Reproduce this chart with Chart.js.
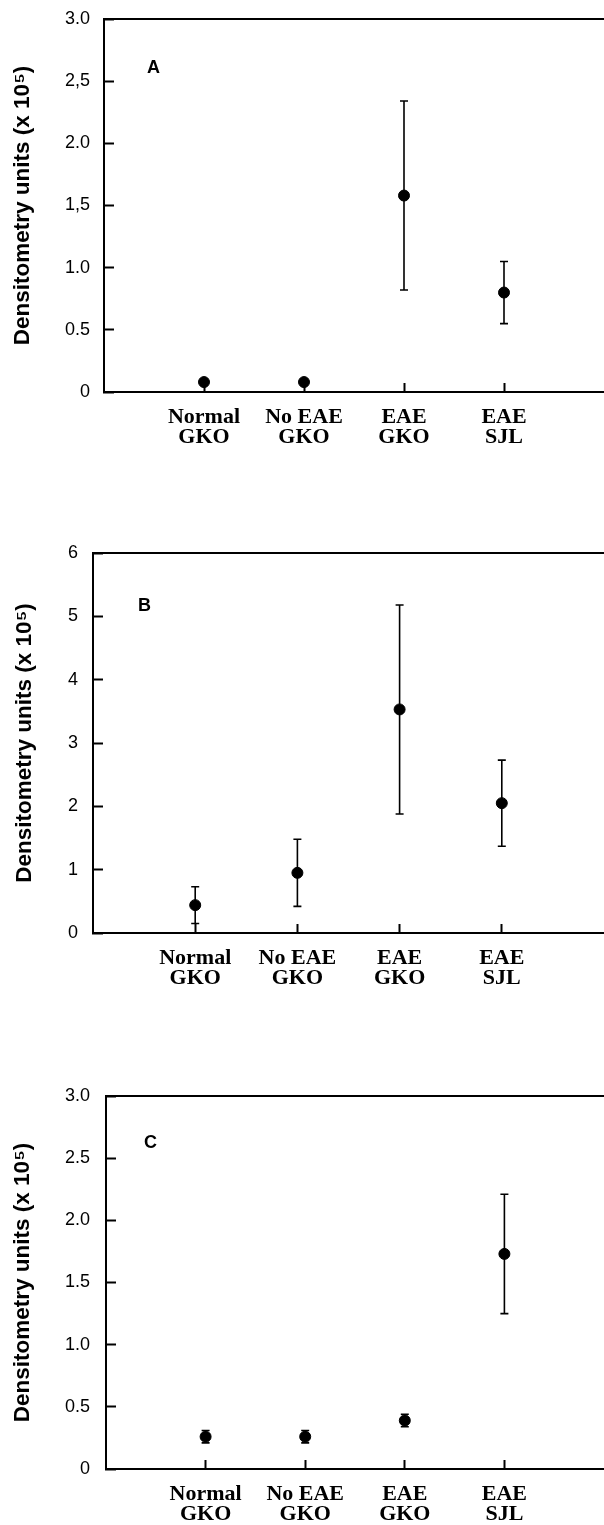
<!DOCTYPE html>
<html>
<head>
<meta charset="utf-8">
<script src="https://cdn.jsdelivr.net/npm/chart.js@4/dist/chart.umd.min.js"></script>
<style>
  html, body { margin: 0; padding: 0; background: #fff; }
  #wrap { position: relative; width: 604px; height: 1525px; }
  #wrap canvas { position: absolute; left: 0; }
</style>
</head>
<body>
<div id="wrap">
  <canvas id="panel-a"></canvas>
  <canvas id="panel-b"></canvas>
  <canvas id="panel-c"></canvas>
</div>
<script>
// groups along the x axis
const categories = [['Normal', 'GKO'], ['No EAE', 'GKO'], ['EAE', 'GKO'], ['EAE', 'SJL']];

// panel A
const meanA = [0.08, 0.08, 1.58, 0.80];
const errA = [0, 0, 0.76, 0.25];
const ticksA = ['0', '0.5', '1.0', '1,5', '2.0', '2,5', '3.0'];

// panel B
const meanB = [0.44, 0.95, 3.53, 2.05];
const errB = [0.29, 0.53, 1.65, 0.68];
const ticksB = ['0', '1', '2', '3', '4', '5', '6'];

// panel C
const meanC = [0.26, 0.26, 0.39, 1.73];
const errC = [0.05, 0.05, 0.05, 0.48];
const ticksC = ['0', '0.5', '1.0', '1.5', '2.0', '2.5', '3.0'];

const yTitle = 'Densitometry units (x 10\u2075)';

// error bars drawn under the dots, through the chart's own scales
const errorBars = {
    id: 'errorBars',
    beforeDatasetsDraw(chart, args, opts) {
        const { ctx, scales: { x, y } } = chart;
        const points = chart.data.datasets[0].data;
        ctx.save();
        ctx.strokeStyle = '#000';
        ctx.lineWidth = 1.6;
        points.forEach((p, i) => {
            const e = opts.err[i];
            if (!e) return;
            const px = x.getPixelForValue(p.x);
            const hi = y.getPixelForValue(p.y + e);
            const lo = y.getPixelForValue(p.y - e);
            ctx.beginPath();
            ctx.moveTo(px, hi); ctx.lineTo(px, lo);
            ctx.moveTo(px - 4, hi); ctx.lineTo(px + 4, hi);
            ctx.moveTo(px - 4, lo); ctx.lineTo(px + 4, lo);
            ctx.stroke();
        });
        ctx.restore();
    }
};

// the A / B / C letter in the upper left of each plot
const panelLetter = {
    id: 'panelLetter',
    afterDraw(chart, args, opts) {
        const { ctx, chartArea } = chart;
        ctx.save();
        ctx.fillStyle = '#000';
        ctx.font = 'bold 18px "Liberation Sans", Arial, sans-serif';
        ctx.textBaseline = 'alphabetic';
        ctx.fillText(opts.text, chartArea.left + opts.dx, chartArea.top + opts.dy);
        ctx.restore();
    }
};

// keep the plot box where the layout says, not where label overflow pushes it
function noPadding(scale) {
    scale.paddingLeft = 0;
    scale.paddingRight = 0;
    scale.paddingTop = 0;
    scale.paddingBottom = 0;
}

function makePanel(id, means, errs, tickLabels, yMax, yStep, letter, layout) {
    const canvas = document.getElementById(id);
    canvas.style.top = layout.top + 'px';
    canvas.width = 604;
    canvas.height = layout.height;
    canvas.style.width = '604px';
    canvas.style.height = layout.height + 'px';

    return new Chart(canvas.getContext('2d'), {
        type: 'scatter',
        data: {
            datasets: [{
                data: means.map((m, i) => ({ x: i + 1, y: m })),
                backgroundColor: '#000',
                borderColor: '#000',
                pointRadius: 5.5,
                pointHoverRadius: 5.5
            }]
        },
        options: {
            responsive: false,
            animation: false,
            events: [],
            layout: { autoPadding: false, padding: { top: layout.padTop, left: 0, right: 0, bottom: 0 } },
            plugins: {
                legend: { display: false },
                tooltip: { enabled: false },
                errorBars: { err: errs },
                panelLetter: { text: letter, dx: layout.letterDx, dy: layout.letterDy }
            },
            scales: {
                x: {
                    type: 'linear',
                    position: 'bottom',
                    min: 0,
                    max: 5,
                    afterBuildTicks: scale => {
                        scale.ticks = categories.map((c, i) => ({ value: i + 1 }));
                    },
                    afterFit: scale => { scale.height = layout.xHeight; noPadding(scale); },
                    grid: {
                        drawOnChartArea: false,
                        drawTicks: true,
                        tickLength: -9,
                        tickWidth: 2,
                        tickColor: '#000'
                    },
                    border: { display: true, color: '#000', width: 2 },
                    ticks: {
                        autoSkip: false,
                        maxRotation: 0,
                        padding: 24,
                        color: '#000',
                        font: { family: '"Liberation Serif", "Times New Roman", serif', size: 22, weight: 'bold', lineHeight: '20.5px' },
                        callback: value => categories[value - 1]
                    }
                },
                x2: {
                    type: 'linear',
                    position: 'top',
                    min: 0,
                    max: 5,
                    afterFit: scale => { scale.height = 0; noPadding(scale); },
                    grid: { drawOnChartArea: false, drawTicks: false },
                    border: { display: true, color: '#000', width: 2 },
                    ticks: { display: false }
                },
                y: {
                    min: 0,
                    max: yMax,
                    afterFit: scale => { scale.width = layout.yWidth; noPadding(scale); },
                    grid: {
                        drawOnChartArea: false,
                        drawTicks: true,
                        tickLength: -10,
                        tickWidth: 2,
                        tickColor: '#000'
                    },
                    border: { display: true, color: '#000', width: 2 },
                    ticks: {
                        stepSize: yStep,
                        padding: layout.yPad,
                        color: '#000',
                        font: { family: '"Liberation Sans", Arial, sans-serif', size: 18 },
                        callback: (value, index) => tickLabels[index]
                    },
                    title: {
                        display: true,
                        text: yTitle,
                        color: '#000',
                        padding: { top: layout.titlePad, bottom: 0 },
                        font: { family: '"Liberation Sans", Arial, sans-serif', size: 22.5, weight: 'bold', lineHeight: 1 }
                    }
                }
            }
        },
        plugins: [errorBars, panelLetter]
    });
}

makePanel('panel-a', meanA, errA, ticksA, 3, 0.5, 'A',
    { top: 0, height: 480, padTop: 19, xHeight: 88, yWidth: 104, yPad: 24, titlePad: 12, letterDx: 43, letterDy: 54 });
makePanel('panel-b', meanB, errB, ticksB, 6, 1, 'B',
    { top: 480, height: 530, padTop: 73, xHeight: 77, yWidth: 93, yPad: 25, titlePad: 14, letterDx: 45, letterDy: 58 });
makePanel('panel-c', meanC, errC, ticksC, 3, 0.5, 'C',
    { top: 1010, height: 515, padTop: 86, xHeight: 56, yWidth: 106, yPad: 26, titlePad: 12, letterDx: 38, letterDy: 52 });
</script>
</body>
</html>
